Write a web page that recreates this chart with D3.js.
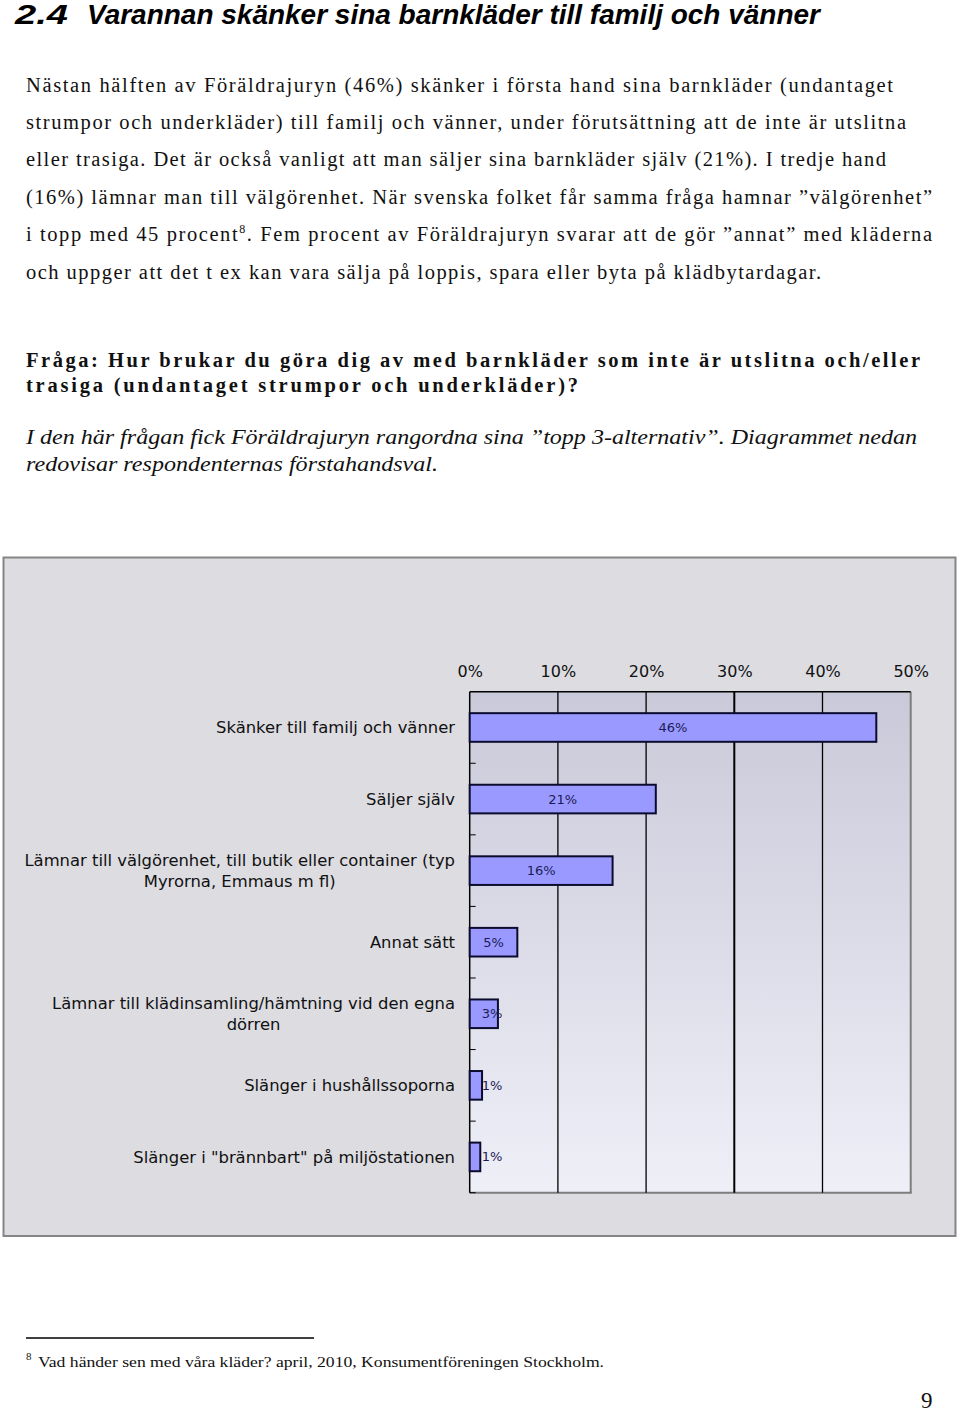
<!DOCTYPE html>
<html>
<head>
<meta charset="utf-8">
<script src="https://cdn.jsdelivr.net/npm/d3@7"></script>
<style>
  html, body { margin: 0; padding: 0; background: #ffffff; }
  svg { display: block; }
</style>
</head>
<body>
<svg id="page" width="960" height="1413"></svg>
<script>
// ---------- DATA ----------
const categories = [
  "Skänker till familj och vänner",
  "Säljer själv",
  "Lämnar till välgörenhet, till butik eller container (typ\nMyrorna, Emmaus m fl)",
  "Annat sätt",
  "Lämnar till klädinsamling/hämtning vid den egna\ndörren",
  "Slänger i hushållssoporna",
  "Slänger i \"brännbart\" på miljöstationen"
];
const values = [46.1, 21.1, 16.2, 5.4, 3.2, 1.4, 1.2];
const xTicks = [0, 10, 20, 30, 40, 50];
const xTickLabels = ["0%", "10%", "20%", "30%", "40%", "50%"];

const headingNumber = "2.4";
const headingText = "Varannan skänker sina barnkläder till familj och vänner";
const bodyLines = [
  "Nästan hälften av Föräldrajuryn (46%) skänker i första hand sina barnkläder (undantaget",
  "strumpor och underkläder) till familj och vänner, under förutsättning att de inte är utslitna",
  "eller trasiga. Det är också vanligt att man säljer sina barnkläder själv (21%). I tredje hand",
  "(16%) lämnar man till välgörenhet. När svenska folket får samma fråga hamnar ”välgörenhet”",
  "i topp med 45 procent|8|. Fem procent av Föräldrajuryn svarar att de gör ”annat” med kläderna",
  "och uppger att det t ex kan vara sälja på loppis, spara eller byta på klädbytardagar."
];
const questionLines = [
  "Fråga: Hur brukar du göra dig av med barnkläder som inte är utslitna och/eller",
  "trasiga (undantaget strumpor och underkläder)?"
];
const noteLines = [
  "I den här frågan fick Föräldrajuryn rangordna sina ”topp 3-alternativ”. Diagrammet nedan",
  "redovisar respondenternas förstahandsval."
];
const footnoteMark = "8";
const footnoteText = "Vad händer sen med våra kläder? april, 2010, Konsumentföreningen Stockholm.";
const pageNumber = "9";

// ---------- LAYOUT ----------
const svg = d3.select("#page");
const serif = "'Liberation Serif', 'DejaVu Serif', serif";
const sans = "'DejaVu Sans', Verdana, sans-serif";

// Heading
svg.append("text").attr("x", 15).attr("y", 24)
  .attr("font-family", "'Liberation Sans Narrow', 'Liberation Sans', Arial, sans-serif")
  .attr("font-weight", "bold").attr("font-style", "italic")
  .attr("font-size", 28).attr("fill", "#000")
  .attr("textLength", 53).attr("lengthAdjust", "spacingAndGlyphs")
  .text(headingNumber);
svg.append("text").attr("x", 87).attr("y", 24)
  .attr("font-family", "'Liberation Sans Narrow', 'Liberation Sans', Arial, sans-serif")
  .attr("font-weight", "bold").attr("font-style", "italic")
  .attr("font-size", 28).attr("fill", "#000")
  .attr("textLength", 733).attr("lengthAdjust", "spacingAndGlyphs")
  .text(headingText);

// Body paragraph (justified lines)
const bodyEnds = [893, 906, 886, 932, 932, 821];
const bodyBase = [92, 129, 166, 204, 241, 279];
bodyLines.forEach((line, i) => {
  const t = svg.append("text").attr("x", 26).attr("y", bodyBase[i])
    .attr("font-family", serif).attr("font-size", 20.5).attr("fill", "#111")
    .attr("textLength", bodyEnds[i] - 26).attr("lengthAdjust", "spacing");
  const parts = line.split("|");
  parts.forEach((p, j) => {
    const ts = t.append("tspan").text(p);
    if (j === 1) ts.attr("font-size", 12).attr("dy", -8);
    if (j === 2) ts.attr("dy", 8);
  });
});

// Question (bold)
const qEnds = [920, 578];
const qBase = [367, 392];
questionLines.forEach((line, i) => {
  svg.append("text").attr("x", 26).attr("y", qBase[i])
    .attr("font-family", serif).attr("font-weight", "bold")
    .attr("font-size", 20.5).attr("fill", "#111")
    .attr("textLength", qEnds[i] - 26).attr("lengthAdjust", "spacing")
    .text(line);
});

// Note (italic)
const nEnds = [917, 438];
const nBase = [444, 471];
noteLines.forEach((line, i) => {
  svg.append("text").attr("x", 26).attr("y", nBase[i])
    .attr("font-family", serif).attr("font-style", "italic")
    .attr("font-size", 21.5).attr("fill", "#111")
    .attr("textLength", nEnds[i] - 26).attr("lengthAdjust", "spacingAndGlyphs")
    .text(line);
});

// ---------- CHART ----------
const frame = { x: 3.5, y: 557.5, w: 952, h: 678.5 };
svg.append("rect").attr("x", frame.x).attr("y", frame.y)
  .attr("width", frame.w).attr("height", frame.h)
  .attr("fill", "#dcdce1").attr("stroke", "#858585").attr("stroke-width", 2);

const plot = { left: 469.7, right: 910.7, top: 691.7, bottom: 1192.7 };

const defs = svg.append("defs");
const grad = defs.append("linearGradient").attr("id", "plotGrad")
  .attr("x1", 0).attr("y1", 0).attr("x2", 0).attr("y2", 1);
grad.append("stop").attr("offset", "0%").attr("stop-color", "#c9c9d9");
grad.append("stop").attr("offset", "100%").attr("stop-color", "#efeff8");

const x = d3.scaleLinear().domain([0, 50]).range([plot.left, plot.right]);
const y = d3.scaleBand().domain(categories)
  .range([plot.top, plot.bottom]).paddingInner(0.6).paddingOuter(0.3);

const g = svg.append("g");

// plot background
g.append("rect").attr("x", plot.left).attr("y", plot.top)
  .attr("width", plot.right - plot.left).attr("height", plot.bottom - plot.top)
  .attr("fill", "url(#plotGrad)");

// bottom / right gray border
g.append("line").attr("x1", plot.left).attr("x2", plot.right + 1)
  .attr("y1", plot.bottom).attr("y2", plot.bottom)
  .attr("stroke", "#7d7d7d").attr("stroke-width", 2);
g.append("line").attr("x1", plot.right).attr("x2", plot.right)
  .attr("y1", plot.top).attr("y2", plot.bottom)
  .attr("stroke", "#7d7d7d").attr("stroke-width", 2);

// vertical gridlines
g.selectAll("line.grid").data(xTicks.filter(d => d > 0 && d < 50)).enter()
  .append("line").attr("class", "grid")
  .attr("x1", d => x(d)).attr("x2", d => x(d))
  .attr("y1", plot.top).attr("y2", plot.bottom)
  .attr("stroke", "#000").attr("stroke-width", d => d === 30 ? 2 : 1.3);

// top border
g.append("line").attr("x1", plot.left).attr("x2", plot.right)
  .attr("y1", plot.top).attr("y2", plot.top)
  .attr("stroke", "#000").attr("stroke-width", 1.5);

// top axis labels
const xAxis = d3.axisTop(x).tickValues(xTicks)
  .tickFormat((d, i) => xTickLabels[i]).tickSize(0).tickPadding(15);
const xg = svg.append("g").attr("transform", `translate(0,${plot.top})`).call(xAxis);
xg.select(".domain").remove();
xg.selectAll("text").attr("font-family", sans).attr("font-size", 16).attr("fill", "#111");

// left axis line + band ticks (inward)
const step = y.step();
const firstStart = y(categories[0]) - step * y.paddingOuter();
const boundaries = d3.range(1, categories.length + 1).map(i => firstStart + i * step);
g.append("line").attr("x1", plot.left).attr("x2", plot.left)
  .attr("y1", plot.top).attr("y2", plot.bottom)
  .attr("stroke", "#000").attr("stroke-width", 1.5);
g.selectAll("line.ytick").data(boundaries).enter()
  .append("line").attr("class", "ytick")
  .attr("x1", plot.left).attr("x2", plot.left + 6)
  .attr("y1", d => d).attr("y2", d => d)
  .attr("stroke", "#000").attr("stroke-width", 1);

// bars
g.selectAll("rect.bar").data(values).enter()
  .append("rect").attr("class", "bar")
  .attr("x", x(0))
  .attr("y", (d, i) => y(categories[i]))
  .attr("width", d => x(d) - x(0))
  .attr("height", y.bandwidth())
  .attr("fill", "#9999ff").attr("stroke", "#0b0b2e").attr("stroke-width", 2);

// value labels
const fmt = d => Math.round(d) + "%";
g.selectAll("text.val").data(values).enter()
  .append("text").attr("class", "val")
  .attr("font-family", sans).attr("font-size", 13).attr("fill", "#1c1c55")
  .attr("dominant-baseline", "central")
  .attr("y", (d, i) => y(categories[i]) + y.bandwidth() / 2)
  .text(fmt)
  .each(function (d) {
    const w = this.getComputedTextLength();
    const cx = (x(0) + x(d)) / 2;
    const left = Math.max(cx - w / 2, x(0) + 12);
    d3.select(this).attr("x", left);
  });

// category labels
const labelRight = 455;
const lineH = 21;
categories.forEach((c, i) => {
  const lines = c.split("\n");
  const cy = y(c) + y.bandwidth() / 2;
  const t = svg.append("text").attr("font-family", sans).attr("font-size", 16.4)
    .attr("fill", "#111").attr("dominant-baseline", "central");
  const tspans = lines.map((l, k) => t.append("tspan").text(l)
    .attr("y", cy + (k - (lines.length - 1) / 2) * lineH));
  const widths = tspans.map(s => s.node().getComputedTextLength());
  const maxW = d3.max(widths);
  if (lines.length === 1) {
    t.attr("text-anchor", "end");
    tspans[0].attr("x", labelRight);
  } else {
    t.attr("text-anchor", "middle");
    tspans.forEach(s => s.attr("x", labelRight - maxW / 2));
  }
});

// ---------- FOOTNOTE ----------
svg.append("line").attr("x1", 26).attr("x2", 314).attr("y1", 1338).attr("y2", 1338)
  .attr("stroke", "#000").attr("stroke-width", 1.3);
svg.append("text").attr("x", 26).attr("y", 1360)
  .attr("font-family", serif).attr("font-size", 11).attr("fill", "#111").text(footnoteMark);
svg.append("text").attr("x", 38).attr("y", 1367)
  .attr("font-family", serif).attr("font-size", 15).attr("fill", "#111")
  .attr("textLength", 566).attr("lengthAdjust", "spacingAndGlyphs")
  .text(footnoteText);
svg.append("text").attr("x", 921).attr("y", 1408)
  .attr("font-family", serif).attr("font-size", 23).attr("fill", "#111").text(pageNumber);
</script>
</body>
</html>
